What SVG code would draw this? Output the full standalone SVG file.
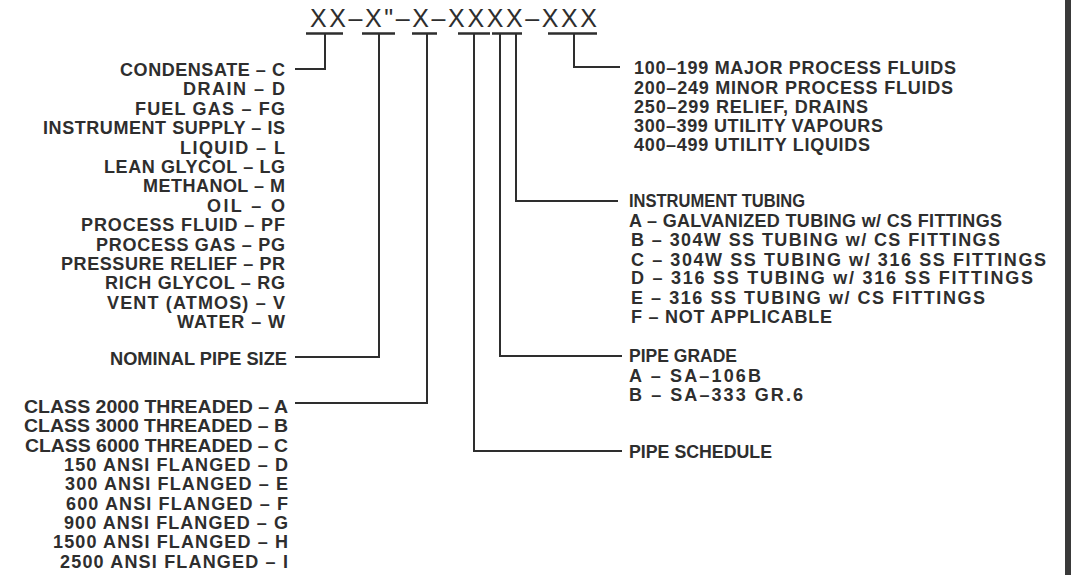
<svg xmlns="http://www.w3.org/2000/svg" width="1076" height="575" viewBox="0 0 1076 575">
<style>
  .t { font-family: "Liberation Sans", Arial, sans-serif; font-size: 18px; font-weight: bold; fill: #2e2e2e; }
  .r { text-anchor: end; }
  .h { font-family: "Liberation Sans", Arial, sans-serif; font-size: 25px; fill: #2e2e2e; }
  .ln { fill: none; stroke: #2e2e2e; stroke-width: 2; }
  .ul { fill: none; stroke: #2e2e2e; stroke-width: 2.5; }
</style>
<rect width="1076" height="575" fill="#ffffff"/>
<rect x="1065" y="0" width="6" height="575" fill="#3a3a3a"/>

<g id="header">
  <text class="h" x="310" y="27" textLength="287">XX–X"–X–XXXX–XXX</text>
</g>

<g id="connectors">
  <path class="ul" d="M306,33.5 H343 M362,33.5 H395 M412,33.5 H437 M458,33.5 H490 M492,33.5 H522 M548,33.5 H597"/>
  <path class="ln" d="M325,33 V69 H295"/>
  <path class="ln" d="M379,33 V357 H295"/>
  <path class="ln" d="M427,33 V403 H295"/>
  <path class="ln" d="M474,33 V451 H622" stroke-width="3"/>
  <path class="ln" d="M500,33 V356 H622"/>
  <path class="ln" d="M516,33 V201 H618"/>
  <path class="ln" d="M574,33 V67 H620"/>
</g>

<g id="fluid-codes">
  <text class="t r" x="285" y="76" textLength="165">CONDENSATE – C</text>
  <text class="t r" x="285" y="95.4" textLength="102">DRAIN – D</text>
  <text class="t r" x="285" y="114.8" textLength="150">FUEL GAS – FG</text>
  <text class="t r" x="285" y="134.2" textLength="242">INSTRUMENT SUPPLY – IS</text>
  <text class="t r" x="285" y="153.6" textLength="105">LIQUID – L</text>
  <text class="t r" x="285" y="173" textLength="181">LEAN GLYCOL – LG</text>
  <text class="t r" x="285" y="192.4" textLength="142">METHANOL – M</text>
  <text class="t r" x="285" y="211.8" textLength="78">OIL – O</text>
  <text class="t r" x="285" y="231.2" textLength="204">PROCESS FLUID – PF</text>
  <text class="t r" x="285" y="250.6" textLength="189">PROCESS GAS – PG</text>
  <text class="t r" x="285" y="270" textLength="224">PRESSURE RELIEF – PR</text>
  <text class="t r" x="285" y="289.4" textLength="180">RICH GLYCOL – RG</text>
  <text class="t r" x="285" y="308.8" textLength="178">VENT (ATMOS) – V</text>
  <text class="t r" x="285" y="328.2" textLength="108">WATER – W</text>
</g>

<g id="nominal-size">
  <text class="t r" x="287" y="364.5" textLength="177" lengthAdjust="spacingAndGlyphs">NOMINAL PIPE SIZE</text>
</g>

<g id="rating-codes">
  <text class="t r" x="288" y="413" textLength="264" lengthAdjust="spacingAndGlyphs">CLASS 2000 THREADED – A</text>
  <text class="t r" x="288" y="432.3" textLength="264" lengthAdjust="spacingAndGlyphs">CLASS 3000 THREADED – B</text>
  <text class="t r" x="288" y="451.7" textLength="263" lengthAdjust="spacingAndGlyphs">CLASS 6000 THREADED – C</text>
  <text class="t r" x="288" y="471" textLength="224">150 ANSI FLANGED – D</text>
  <text class="t r" x="288" y="490.3" textLength="223">300 ANSI FLANGED – E</text>
  <text class="t r" x="288" y="509.7" textLength="222">600 ANSI FLANGED – F</text>
  <text class="t r" x="288" y="529" textLength="224">900 ANSI FLANGED – G</text>
  <text class="t r" x="288" y="548.3" textLength="235">1500 ANSI FLANGED – H</text>
  <text class="t r" x="288" y="567.7" textLength="228">2500 ANSI FLANGED – I</text>
</g>

<g id="sequence-numbers">
  <text class="t" x="634" y="74.3" textLength="322">100–199 MAJOR PROCESS FLUIDS</text>
  <text class="t" x="634" y="93.5" textLength="319">200–249 MINOR PROCESS FLUIDS</text>
  <text class="t" x="634" y="112.7" textLength="234">250–299 RELIEF, DRAINS</text>
  <text class="t" x="634" y="131.9" textLength="249">300–399 UTILITY VAPOURS</text>
  <text class="t" x="634" y="151.1" textLength="236">400–499 UTILITY LIQUIDS</text>
</g>

<g id="instrument-tubing">
  <text class="t" x="629" y="206.9" textLength="176" lengthAdjust="spacingAndGlyphs">INSTRUMENT TUBING</text>
  <text class="t" x="629" y="226.5" textLength="373">A – GALVANIZED TUBING w/ CS FITTINGS</text>
  <text class="t" x="631" y="246.3" textLength="369">B – 304W SS TUBING w/ CS FITTINGS</text>
  <text class="t" x="631" y="265.6" textLength="415">C – 304W SS TUBING w/ 316 SS FITTINGS</text>
  <text class="t" x="631" y="284.4" textLength="402">D – 316 SS TUBING w/ 316 SS FITTINGS</text>
  <text class="t" x="631" y="303.5" textLength="354">E – 316 SS TUBING w/ CS FITTINGS</text>
  <text class="t" x="631" y="322.7" textLength="201">F – NOT APPLICABLE</text>
</g>

<g id="pipe-grade">
  <text class="t" x="629" y="362.3" textLength="108" lengthAdjust="spacingAndGlyphs">PIPE GRADE</text>
  <text class="t" x="629" y="381.7" textLength="132">A – SA–106B</text>
  <text class="t" x="629" y="401" textLength="174">B – SA–333 GR.6</text>
</g>

<g id="pipe-schedule">
  <text class="t" x="629" y="458.3" textLength="143" lengthAdjust="spacingAndGlyphs">PIPE SCHEDULE</text>
</g>
</svg>
